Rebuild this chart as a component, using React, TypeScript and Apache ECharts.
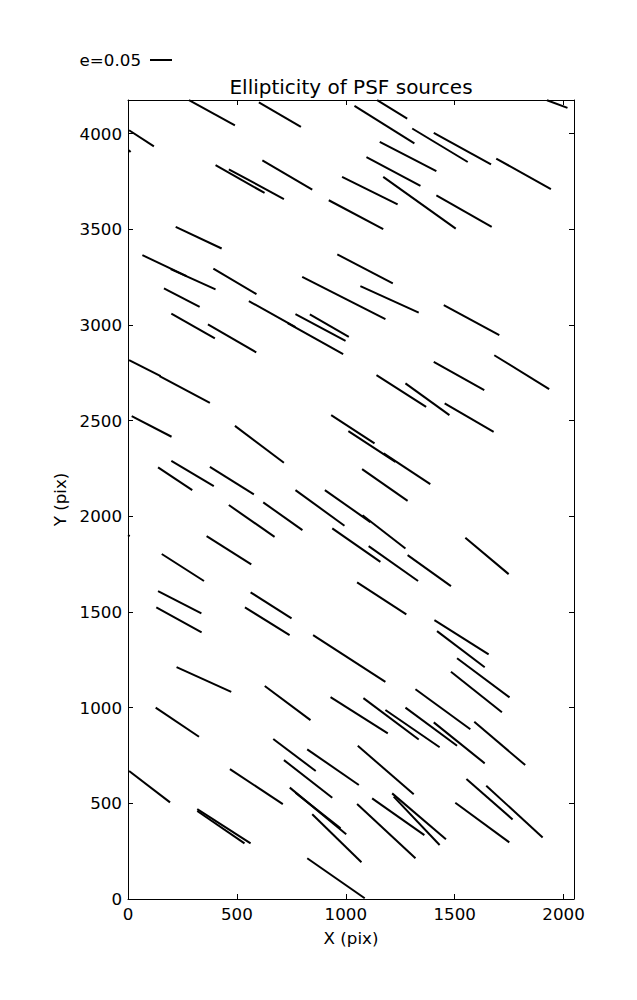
import React, { useEffect, useRef } from "react";
import * as echarts from "echarts";

// Whisker segments (start / end), in detector pixel units
const xStart = [280, 601, 5, 3, 402, 463, 617, 922, 219, 66, 196, 392, 800, 165, 1144, 1924, 1040, 1305, 1404, 1156, 1691, 1095, 1172, 1416, 983, 961, 1067, 555, 733, 769, 835, 199, 367, 5, 145, 17, 491, 933, 199, 138, 376, 769, 904, 1077, 1450, 1682, 1404, 1141, 1274, 1454, 1012, 1174, 1075, 463, 621, 938, 361, 155, 138, 130, 563, 537, 850, 223, 628, 930, 1105, 1284, 1549, 1052, 1407, 1419, 1511, 1483, 1320, 1081, 1182, 1274, 1404, 1590, 1055, 1052, 1121, 1213, 1220, 1503, 1554, 1645, 823, 127, 5, 468, 667, 823, 716, 743, 769, 846, 318, 318, 0];
const yStart = [4175, 4163, 4018, 3914, 3835, 3814, 3861, 3652, 3513, 3365, 3292, 3295, 3252, 3191, 4175, 4175, 4145, 4027, 4004, 3957, 3870, 3877, 3774, 3678, 3774, 3369, 3203, 3125, 3010, 3057, 3055, 3060, 3003, 2816, 2733, 2524, 2473, 2529, 2290, 2256, 2259, 2137, 2137, 2006, 3104, 2842, 2807, 2738, 2695, 2590, 2445, 2329, 2247, 2059, 2073, 1937, 1897, 1803, 1609, 1524, 1603, 1524, 1379, 1212, 1113, 1055, 1844, 1797, 1888, 1655, 1458, 1400, 1258, 1188, 1096, 1050, 988, 1000, 923, 926, 801, 496, 526, 552, 535, 503, 627, 592, 213, 1000, 669, 679, 836, 782, 726, 582, 555, 443, 470, 460, 1902];
const xEnd = [491, 794, 119, 12, 627, 716, 846, 1172, 430, 269, 402, 590, 1182, 329, 1282, 2018, 1315, 1560, 1667, 1416, 1942, 1343, 1505, 1670, 1238, 1216, 1335, 769, 988, 999, 1014, 399, 589, 150, 376, 200, 716, 1132, 394, 295, 578, 994, 1113, 1274, 1705, 1934, 1636, 1369, 1476, 1679, 1228, 1388, 1284, 673, 801, 1159, 566, 349, 337, 338, 751, 742, 1182, 474, 838, 1193, 1332, 1483, 1748, 1278, 1656, 1638, 1752, 1717, 1572, 1335, 1431, 1511, 1638, 1824, 1312, 1320, 1361, 1460, 1431, 1751, 1766, 1904, 1087, 326, 193, 711, 862, 1060, 938, 1002, 976, 1072, 563, 535, 8];
const yEnd = [4044, 4035, 3934, 3904, 3690, 3658, 3708, 3501, 3400, 3255, 3186, 3161, 3031, 3095, 4079, 4135, 3949, 3852, 3840, 3804, 3710, 3727, 3504, 3513, 3630, 3217, 3065, 2989, 2848, 2917, 2938, 2930, 2857, 2733, 2593, 2416, 2280, 2381, 2158, 2137, 2115, 1951, 1970, 1832, 2947, 2665, 2660, 2572, 2529, 2442, 2285, 2168, 2081, 1893, 1928, 1762, 1749, 1662, 1493, 1394, 1467, 1379, 1135, 1083, 935, 866, 1662, 1635, 1698, 1488, 1279, 1211, 1054, 976, 887, 834, 793, 801, 709, 700, 547, 213, 334, 312, 282, 296, 416, 322, 4, 848, 505, 496, 669, 596, 529, 338, 369, 192, 291, 291, 1897];

const xTicks = [0, 500, 1000, 1500, 2000];
const yTicks = [0, 500, 1000, 1500, 2000, 2500, 3000, 3500, 4000];
const xMax = 2048;
const yMax = 4176;
const titleText = "Ellipticity of PSF sources";
const legendLabel = "e=0.05";

const FONT = "DejaVu Sans";

export default function App() {
  const ref = useRef<HTMLDivElement>(null);
  useEffect(() => {
    if (!ref.current) return;
    const chart = echarts.init(ref.current, null, { renderer: "svg" });
    const segs = xStart.map((x, i) => ({
      coords: [
        [x, yStart[i]],
        [xEnd[i], yEnd[i]],
      ],
    }));
    const lineStyle = { lineStyle: { color: "#000", width: 1 } };
    const labelStyle = { color: "#000", fontFamily: FONT, fontSize: 16.7 };
    const fmt = (v: number) => String(v);
    const xTick = { inside: true, length: 5, lineStyle: { color: "#000", width: 1 }, customValues: xTicks };
    const yTick = { inside: true, length: 5, lineStyle: { color: "#000", width: 1 }, customValues: yTicks };
    chart.setOption({
      animation: false,
      backgroundColor: "#fff",
      grid: { left: 128, right: 63, top: 100, bottom: 101, outerBoundsMode: "none" },
      xAxis: [
        {
          type: "value",
          min: 0,
          max: xMax,
          interval: 500,
          position: "bottom",
          axisLine: { show: true, onZero: false, ...lineStyle },
          axisTick: xTick,
          splitLine: { show: false },
          axisLabel: {
            ...labelStyle,
            margin: 6,
            customValues: xTicks,
            formatter: fmt,
          },
          name: "X (pix)",
          nameLocation: "middle",
          nameGap: 30,
          nameTextStyle: labelStyle,
        },
        {
          type: "value",
          min: 0,
          max: xMax,
          interval: 500,
          position: "top",
          axisLine: { show: true, onZero: false, ...lineStyle },
          axisTick: xTick,
          splitLine: { show: false },
          axisLabel: { show: false },
        },
      ],
      yAxis: [
        {
          type: "value",
          min: 0,
          max: yMax,
          interval: 500,
          position: "left",
          axisLine: { show: true, onZero: false, ...lineStyle },
          axisTick: yTick,
          splitLine: { show: false },
          axisLabel: {
            ...labelStyle,
            margin: 6,
            customValues: yTicks,
            formatter: fmt,
          },
          name: "Y (pix)",
          nameLocation: "middle",
          nameGap: 56,
          nameRotate: 90,
          nameTextStyle: labelStyle,
        },
        {
          type: "value",
          min: 0,
          max: yMax,
          interval: 500,
          position: "right",
          axisLine: { show: true, onZero: false, ...lineStyle },
          axisTick: yTick,
          splitLine: { show: false },
          axisLabel: { show: false },
        },
      ],
      graphic: [
        {
          type: "text",
          x: 351,
          y: 87,
          style: {
            text: titleText,
            fill: "#000",
            font: `20px "${FONT}"`,
            textAlign: "center",
            textVerticalAlign: "middle",
          },
        },
        {
          type: "text",
          x: 141,
          y: 60,
          style: {
            text: legendLabel,
            fill: "#000",
            font: `16.7px "${FONT}"`,
            textAlign: "right",
            textVerticalAlign: "middle",
          },
        },
        {
          type: "line",
          shape: { x1: 150, y1: 60, x2: 172, y2: 60 },
          style: { stroke: "#000", lineWidth: 2 },
        },
      ],
      series: [
        {
          type: "lines",
          coordinateSystem: "cartesian2d",
          xAxisIndex: 0,
          yAxisIndex: 0,
          silent: true,
          data: segs,
          lineStyle: { color: "#000", width: 2, opacity: 1 },
        },
      ],
    });
    return () => chart.dispose();
  }, []);
  return (
    <div
      ref={ref}
      style={{ position: "absolute", left: 0, top: 0, width: 637, height: 1000, background: "#fff" }}
    />
  );
}
